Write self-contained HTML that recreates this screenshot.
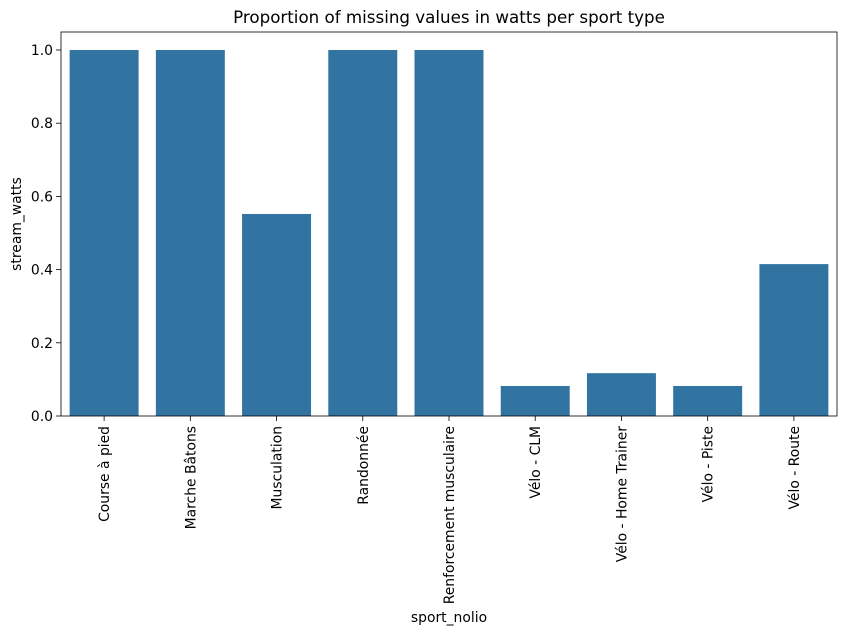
<!DOCTYPE html>
<html><head><meta charset="utf-8"><style>
body{margin:0;background:#fff;}
svg text{font-family:"DejaVu Sans","Liberation Sans",sans-serif;fill:#000;}
</style></head><body>
<svg id="chart" width="846" height="634" xmlns="http://www.w3.org/2000/svg">
<rect width="846" height="634" fill="#fff"/>
<g id="plot"></g>
</svg>
<script>
const categories=["Course à pied","Marche Bâtons","Musculation","Randonnée","Renforcement musculaire","Vélo - CLM","Vélo - Home Trainer","Vélo - Piste","Vélo - Route"];
const values=[1.0,1.0,0.552,1.0,1.0,0.082,0.117,0.082,0.415];
const yTicks=[0.0,0.2,0.4,0.6,0.8,1.0];
const tickLabels=["0.0","0.2","0.4","0.6","0.8","1.0"];

const L=61,R=837,T=32,B=416;
const NS="http://www.w3.org/2000/svg";
const g=document.getElementById('plot');
const y=v=>B-v*366;
const band=(R-L)/categories.length;
const x=i=>L+band*i+band/2;
function el(t,a,txt){const e=document.createElementNS(NS,t);for(const k in a)e.setAttribute(k,a[k]);if(txt!==undefined)e.textContent=txt;g.appendChild(e);return e;}

values.forEach((v,i)=>{
  const r=el('rect',{x:x(i)-band*0.4,y:y(v),width:band*0.8,height:B-y(v),fill:'#3274a1'});
  
  
});
yTicks.forEach((t,i)=>{
  const l=el('line',{x1:L-5,x2:L,y1:y(t),y2:y(t),stroke:'#000','stroke-width':0.8});
  
  
  const tx=el('text',{x:L-8,y:y(t)+5,'text-anchor':'end','font-size':13.9},tickLabels[i]);
  
  
});
categories.forEach((c,i)=>{
  const l=el('line',{x1:x(i),x2:x(i),y1:B,y2:B+5,stroke:'#000','stroke-width':0.8});
  
  
  const tx=el('text',{x:0,y:0,'text-anchor':'end','font-size':13.9,transform:`translate(${x(i)+5},${B+10}) rotate(-90)`},c);
  
  
});
const f=el('rect',{x:L,y:T,width:R-L,height:B-T,fill:'none',stroke:'#000','stroke-width':0.8});


const ti=el('text',{x:(L+R)/2,y:23,'text-anchor':'middle','font-size':16.7},'Proportion of missing values in watts per sport type');


const xl=el('text',{x:(L+R)/2,y:622,'text-anchor':'middle','font-size':13.9},'sport_nolio');


const yl=el('text',{x:0,y:0,'text-anchor':'middle','font-size':13.9,transform:`translate(21,${(T+B)/2}) rotate(-90)`},'stream_watts');


</script>
</body></html>
